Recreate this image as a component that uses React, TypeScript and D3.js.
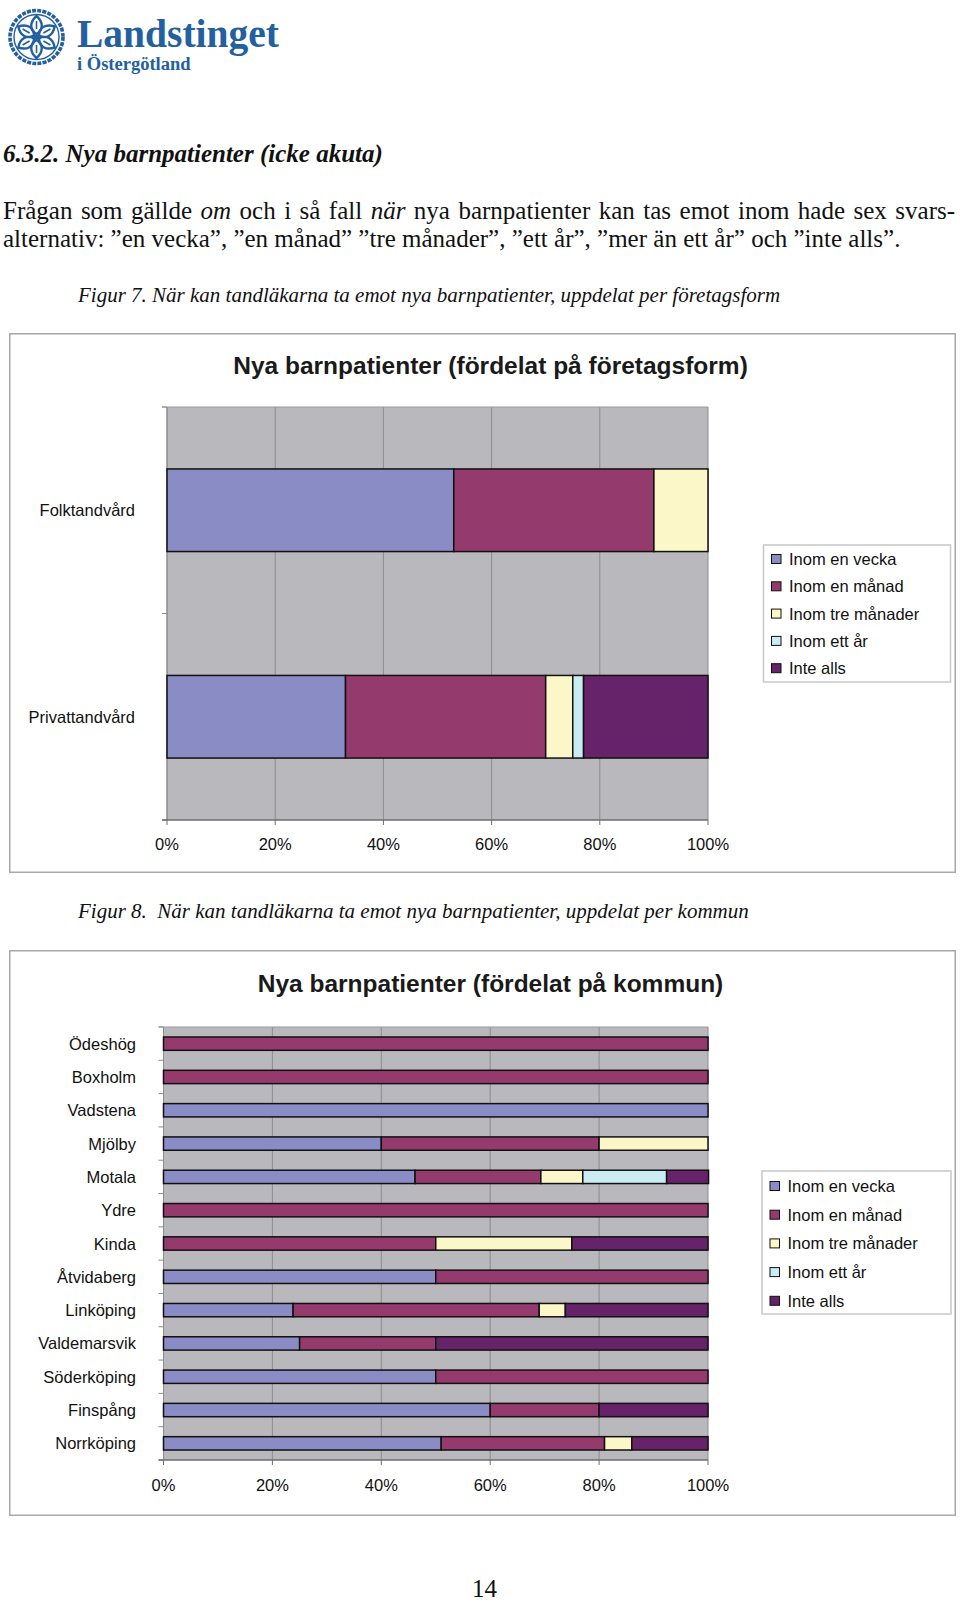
import React, { useLayoutEffect, useRef, useState } from 'react';
import * as d3 from 'd3';

const SERIES = ['Inom en vecka', 'Inom en månad', 'Inom tre månader', 'Inom ett år', 'Inte alls'];
const COLORS = ['#8A8DC5', '#953A6D', '#FBF7C9', '#C9EDF3', '#66236A'];
const TICKS = [0, 20, 40, 60, 80, 100];
const TICK_LABELS = ['0%', '20%', '40%', '60%', '80%', '100%'];

const FORM_CATS = ['Folktandvård', 'Privattandvård'];
const FORM_VECKA = [53, 33];
const FORM_MANAD = [37, 37];
const FORM_TRE = [10, 5];
const FORM_AR = [0, 2];
const FORM_INTE = [0, 23];

const KOMMUN_CATS = ['Ödeshög', 'Boxholm', 'Vadstena', 'Mjölby', 'Motala', 'Ydre', 'Kinda', 'Åtvidaberg', 'Linköping', 'Valdemarsvik', 'Söderköping', 'Finspång', 'Norrköping'];
const K_VECKA = [0, 0, 100, 40, 46.2, 0, 0, 50, 23.8, 25, 50, 60, 51];
const K_MANAD = [100, 100, 0, 40, 23.1, 100, 50, 50, 45.2, 25, 50, 20, 30];
const K_TRE = [0, 0, 0, 20, 7.7, 0, 25, 0, 4.8, 0, 0, 0, 5];
const K_AR = [0, 0, 0, 0, 15.4, 0, 0, 0, 0, 0, 0, 0, 0];
const K_INTE = [0, 0, 0, 0, 7.7, 0, 25, 0, 26.2, 50, 0, 20, 14];

const SANS = '"Liberation Sans", Arial, sans-serif';
const SERIF = '"Liberation Serif", "Times New Roman", serif';
const LOGO_BLUE = '#22609F';

type Box = { x: number; y: number; w: number; h: number };
type Plot = { x0: number; x1: number; y0: number; y1: number };
type LegendSpec = Box & { firstY: number; step: number };

function StackedBarChart(props: {
  frame: Box;
  title: string;
  titleY: number;
  plot: Plot;
  categories: string[];
  values: number[][];
  legend: LegendSpec;
  tickLabelY: number;
  catLabelX: number;
}) {
  const { frame, title, titleY, plot, categories, values, legend, tickLabelY, catLabelX } = props;
  const x = d3.scaleLinear().domain([0, 100]).range([plot.x0, plot.x1]);
  const y = d3.scaleBand<string>().domain(categories).range([plot.y0, plot.y1]).paddingInner(0.6).paddingOuter(0.3);
  const rows = categories.map((c, i) => {
    const o: any = { cat: c };
    SERIES.forEach((s, j) => (o[s] = values[j][i]));
    return o;
  });
  const stacked = d3.stack<any>().keys(SERIES)(rows);
  const bounds = d3.range(categories.length + 1).map((i) => plot.y0 + i * y.step());

  return (
    <g>
      <rect x={frame.x + 0.75} y={frame.y + 0.75} width={frame.w - 1.5} height={frame.h - 1.5} fill="#fff" stroke="#A8A8A8" strokeWidth={1.5} />
      <text x={frame.x + frame.w / 2 + 8} y={titleY} textAnchor="middle" dominantBaseline="central" fontFamily={SANS} fontWeight="bold" fontSize={24.5} fill="#1a1a1a">
        {title}
      </text>
      <rect x={plot.x0} y={plot.y0} width={plot.x1 - plot.x0} height={plot.y1 - plot.y0} fill="#B9B9BD" />
      {TICKS.map((t) => (
        <line key={'g' + t} x1={x(t)} x2={x(t)} y1={plot.y0} y2={plot.y1} stroke="#8C8C8C" strokeWidth={1} />
      ))}
      <line x1={plot.x0 - 5} x2={plot.x1} y1={plot.y0} y2={plot.y0} stroke="#9A9A9A" strokeWidth={1} />
      {bounds.map((b, i) => (
        <line key={'ct' + i} x1={plot.x0 - 5} x2={plot.x0} y1={b} y2={b} stroke="#8C8C8C" strokeWidth={1} />
      ))}
      <line x1={plot.x0} x2={plot.x0} y1={plot.y0} y2={plot.y1} stroke="#8C8C8C" strokeWidth={1} />
      <line x1={plot.x0 - 5} x2={plot.x1} y1={plot.y1} y2={plot.y1} stroke="#6E6E6E" strokeWidth={1.5} />
      {TICKS.map((t) => (
        <line key={'vt' + t} x1={x(t)} x2={x(t)} y1={plot.y1} y2={plot.y1 + 5} stroke="#6E6E6E" strokeWidth={1} />
      ))}
      {stacked.map((layer, j) => (
        <g key={SERIES[j]}>
          {layer.map((d, i) =>
            d[1] - d[0] > 0 ? (
              <rect
                key={i}
                x={x(d[0])}
                y={y(categories[i])}
                width={x(d[1]) - x(d[0])}
                height={y.bandwidth()}
                fill={COLORS[j]}
                stroke="#111"
                strokeWidth={1.5}
              />
            ) : null
          )}
        </g>
      ))}
      {categories.map((c) => (
        <text key={c} x={catLabelX} y={(y(c) as number) + y.bandwidth() / 2} textAnchor="end" dominantBaseline="central" fontFamily={SANS} fontSize={16.5} fill="#111">
          {c}
        </text>
      ))}
      {TICKS.map((t, i) => (
        <text key={'tl' + t} x={x(t)} y={tickLabelY} textAnchor="middle" dominantBaseline="central" fontFamily={SANS} fontSize={16.5} fill="#111">
          {TICK_LABELS[i]}
        </text>
      ))}
      <rect x={legend.x} y={legend.y} width={legend.w} height={legend.h} fill="#fff" stroke="#C8C8C8" strokeWidth={1.5} />
      {SERIES.map((s, j) => (
        <g key={'lg' + s}>
          <rect x={legend.x + 8} y={legend.firstY + j * legend.step - 4.5} width={9.5} height={9} fill={COLORS[j]} stroke="#111" strokeWidth={1} />
          <text x={legend.x + 25.5} y={legend.firstY + j * legend.step} dominantBaseline="central" fontFamily={SANS} fontSize={16.5} fill="#111">
            {s}
          </text>
        </g>
      ))}
    </g>
  );
}

function Logo() {
  const cx = 36.5;
  const cy = 37;
  const petals = d3.range(6).map((i) => i * 60);
  return (
    <g>
      <circle cx={cx} cy={cy} r={26.5} fill="none" stroke={LOGO_BLUE} strokeWidth={3.6} strokeDasharray="4 1.2" />
      <circle cx={cx} cy={cy} r={22.5} fill="none" stroke={LOGO_BLUE} strokeWidth={1.4} />
      {petals.map((a) => (
        <g key={a} transform={`translate(${cx},${cy}) rotate(${a})`}>
          <path d="M0,-3 C7,-7 7,-15 0,-21 C-7,-15 -7,-7 0,-3 Z" fill="none" stroke={LOGO_BLUE} strokeWidth={2.4} />
          <path d="M0,-8 L0,-16" stroke={LOGO_BLUE} strokeWidth={1.6} />
        </g>
      ))}
      <circle cx={cx} cy={cy} r={2.8} fill={LOGO_BLUE} />
      <text x={77} y={47} fontFamily={SERIF} fontWeight="bold" fontSize={39.5} fill={LOGO_BLUE}>
        Landstinget
      </text>
      <text x={77} y={70} fontFamily={SERIF} fontWeight="bold" fontSize={18.5} fill={LOGO_BLUE}>
        i Östergötland
      </text>
    </g>
  );
}

export default function App() {
  const line1Ref = useRef<SVGTextElement>(null);
  const [wordSpacing, setWordSpacing] = useState(0);

  useLayoutEffect(() => {
    const el = line1Ref.current;
    if (!el) return;
    const natural = el.getComputedTextLength();
    const target = 952;
    const spaces = 17;
    setWordSpacing(Math.max(0, (target - natural) / spaces));
  }, []);

  return (
    <svg width={960} height={1605} style={{ position: 'absolute', left: 0, top: 0, background: '#fff' }}>
      <rect x={0} y={0} width={960} height={1605} fill="#fff" />
      <Logo />
      <text x={3} y={162} fontFamily={SERIF} fontStyle="italic" fontWeight="bold" fontSize={25} fill="#111">
        6.3.2. Nya barnpatienter (icke akuta)
      </text>
      <text ref={line1Ref} x={3} y={219} fontFamily={SERIF} fontSize={25} fill="#111" wordSpacing={wordSpacing}>
        Frågan som gällde <tspan fontStyle="italic">om</tspan> och i så fall <tspan fontStyle="italic">när</tspan> nya barnpatienter kan tas emot inom hade sex svars-
      </text>
      <text x={3} y={247} fontFamily={SERIF} fontSize={25} fill="#111">
        alternativ: ”en vecka”, ”en månad” ”tre månader”, ”ett år”, ”mer än ett år” och ”inte alls”.
      </text>
      <text x={78} y={302} fontFamily={SERIF} fontStyle="italic" fontSize={21} fill="#111">
        Figur 7. När kan tandläkarna ta emot nya barnpatienter, uppdelat per företagsform
      </text>
      <StackedBarChart
        frame={{ x: 9, y: 333, w: 947, h: 540 }}
        title="Nya barnpatienter (fördelat på företagsform)"
        titleY={365}
        plot={{ x0: 167, x1: 708, y0: 407, y1: 820 }}
        categories={FORM_CATS}
        values={[FORM_VECKA, FORM_MANAD, FORM_TRE, FORM_AR, FORM_INTE]}
        legend={{ x: 763.5, y: 545, w: 187, h: 137, firstY: 559, step: 27.3 }}
        tickLabelY={844}
        catLabelX={135}
      />
      <text x={78} y={918} fontFamily={SERIF} fontStyle="italic" fontSize={21} fill="#111" style={{ whiteSpace: 'pre' }}>
        {'Figur 8.  När kan tandläkarna ta emot nya barnpatienter, uppdelat per kommun'}
      </text>
      <StackedBarChart
        frame={{ x: 9, y: 950, w: 947, h: 566 }}
        title="Nya barnpatienter (fördelat på kommun)"
        titleY={983}
        plot={{ x0: 163.5, x1: 708, y0: 1027, y1: 1460 }}
        categories={KOMMUN_CATS}
        values={[K_VECKA, K_MANAD, K_TRE, K_AR, K_INTE]}
        legend={{ x: 762, y: 1171, w: 189, h: 143, firstY: 1186, step: 28.7 }}
        tickLabelY={1485}
        catLabelX={136}
      />
      <text x={484.5} y={1597} textAnchor="middle" fontFamily={SERIF} fontSize={25} fill="#111">
        14
      </text>
    </svg>
  );
}
